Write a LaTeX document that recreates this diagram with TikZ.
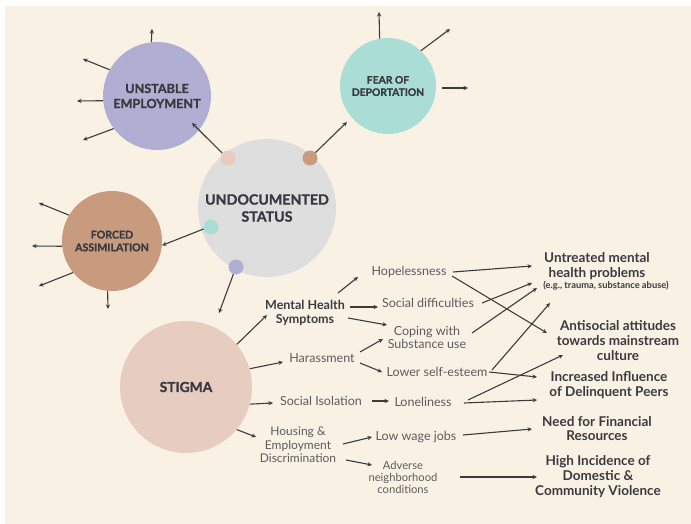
\documentclass[tikz,border=0pt]{standalone}
\usepackage{fontspec}
\setmainfont{Lato}
\usetikzlibrary{arrows.meta}
\definecolor{paper}{HTML}{F9F2E4}
\definecolor{lavender}{HTML}{B0AED3}
\definecolor{mint}{HTML}{A9DDD5}
\definecolor{fog}{HTML}{DEDEDF}
\definecolor{clay}{HTML}{C89A7E}
\definecolor{blush}{HTML}{E7CCC0}
\definecolor{ink}{HTML}{3A3A40}
\definecolor{softink}{HTML}{5C5C60}
\definecolor{wire}{HTML}{3C3C3C}
% heavy face for the circle captions
\newcommand{\heavy}[1]{\bfseries\addfontfeatures{FakeBold=1.3}\fontsize{#1}{1.2\dimexpr#1pt\relax}\selectfont}
\tikzset{
  hub/.style={circle, inner sep=0pt, text=ink, align=center},
  dot/.style={circle, inner sep=0pt, minimum size=15pt},
  cause/.style={align=center, text=softink, inner sep=1pt, font=\fontsize{12.5}{13}\selectfont},
  causebold/.style={align=center, text=ink, inner sep=1pt, font=\bfseries\fontsize{12.5}{14}\selectfont},
  outcome/.style={align=center, text=ink, inner sep=1pt, font=\bfseries\fontsize{13.5}{15}\selectfont},
  arr/.style={draw=wire, line width=1.1pt, -{Stealth[length=4.5pt,width=4.2pt]}}
}
\begin{document}
\begin{tikzpicture}[x=1pt,y=-1pt]
\useasboundingbox (0,0) rectangle (691,524);
\fill[white] (0,0) rectangle (691,524);
\fill[paper] (5,6) rectangle (691,524);

% main circles
\node[hub, fill=lavender, minimum size=108pt, font=\heavy{12.6}] (ue) at (157,96) {UNSTABLE\\EMPLOYMENT};
\node[hub, fill=mint, minimum size=96pt, font=\heavy{10.3}] (fd) at (388,86) {FEAR OF\\DEPORTATION};
\node[hub, fill=fog, minimum size=138pt, font=\heavy{14.2}] (us) at (267,208) {UNDOCUMENTED\\STATUS};
\node[hub, fill=clay, minimum size=100pt, font=\heavy{10.6}] (fa) at (112,241) {FORCED\\ASSIMILATION};
\node[hub, fill=blush, minimum size=132pt, font=\heavy{13.8}] (st) at (186,387) {STIGMA};

% coloured dots on the status circle
\node[dot, fill=blush] (d1) at (228,158) {};
\node[dot, fill=clay] (d2) at (310,158) {};
\node[dot, fill=mint] (d3) at (211,227) {};
\node[dot, fill=lavender] (d4) at (236,267) {};

% links out of the status circle
\draw[arr] (d1.140) -- ([shift={(35,27)}]ue.center);
\draw[arr] (d2.45) -- ([shift={(-41,36)}]fd.center);
\draw[arr] (d3.195) -- (fa.-5);
\draw[arr] (d4.250) -- ([shift={(33,-74)}]st.center);

% open-ended arrows
\draw[arr] (ue.96) -- ([shift={(-5,-67)}]ue.center);
\draw[arr] (ue.151) -- ([shift={(-74,-37)}]ue.center);
\draw[arr] (ue.185) -- ([shift={(-80,5)}]ue.center);
\draw[arr] (ue.217) -- ([shift={(-74,44)}]ue.center);

\draw[arr] (fd.100) -- ([shift={(-9,-74)}]fd.center);
\draw[arr] (fd.47) -- ([shift={(62,-57)}]fd.center);
\draw[arr] ([shift={(54,2)}]fd.center) -- ([shift={(80,2)}]fd.center);

\draw[arr] (fa.149) -- ([shift={(-73,-38)}]fa.center);
\draw[arr] (fa.186) -- ([shift={(-80,5)}]fa.center);
\draw[arr] (fa.219) -- ([shift={(-73,45)}]fa.center);
\draw[arr] (fa.265) -- ([shift={(-4,68)}]fa.center);

% consequences of stigma
\node[causebold] (mhs) at (305,313) {Mental Health\\Symptoms};
\node[cause] (hope) at (409,272) {Hopelessness};
\node[cause] (socd) at (428,303) {Social difficulties};
\node[cause] (cope) at (427,337) {Coping with\\Substance use};
\node[cause] (hara) at (322,358) {Harassment};
\node[cause] (lowse) at (437,372) {Lower self-esteem};
\node[cause] (sociso) at (321,401) {Social Isolation};
\node[cause] (lone) at (423,402) {Loneliness};
\node[cause, font=\fontsize{12}{13.5}\selectfont] (hous) at (298,445) {Housing \&\\Employment\\Discrimination};
\node[cause] (lowwage) at (416,437) {Low wage jobs};
\node[cause, font=\fontsize{11.2}{12}\selectfont] (adv) at (403,477) {Adverse\\neighborhood\\conditions};

\node[outcome] (untr) at (597,266) {Untreated mental\\health problems};
\node[text=ink, inner sep=0pt, font=\bfseries\fontsize{9.3}{10}\selectfont] (untrnote) at (606,286) {(e.g., trauma, substance abuse)};
\node[outcome] (anti) at (618,341) {Antisocial attitudes\\towards mainstream\\culture};
\node[outcome] (incr) at (609,385) {Increased Influence\\of Delinquent Peers};
\node[outcome, font=\bfseries\fontsize{13.5}{14}\selectfont] (need) at (597,429) {Need for Financial\\Resources};
\node[outcome] (high) at (598,477) {High Incidence of\\Domestic \&\\Community Violence};

% stigma to its symptoms
\draw[arr] (st.40) -- ([shift={(-38,2)}]mhs.center);
\draw[arr] (st.16) -- ([shift={(-39,4)}]hara.center);
\draw[arr] (st.-15) -- ([shift={(-48,2)}]sociso.center);
\draw[arr] (st.-40) -- ([shift={(-42,-8)}]hous.center);

% second tier
\draw[arr] ([shift={(33,-20)}]mhs.center) -- ([shift={(-51,5)}]hope.center);
\draw[arr] ([shift={(45,-6)}]mhs.center) -- ([shift={(-50,4)}]socd.center);
\draw[arr] ([shift={(43,5)}]mhs.center) -- ([shift={(-40,-12)}]cope.center);
\draw[arr] ([shift={(38,-6)}]hara.center) -- ([shift={(-44,2)}]cope.center);
\draw[arr] ([shift={(38,5)}]hara.center) -- ([shift={(-55,0)}]lowse.center);
\draw[arr] ([shift={(51,0)}]sociso.center) -- ([shift={(-34,-1)}]lone.center);
\draw[arr] ([shift={(45,-1)}]hous.center) -- ([shift={(-44,0)}]lowwage.center);
\draw[arr] ([shift={(48,15)}]hous.center) -- ([shift={(-31,-12)}]adv.center);

% outcomes
\draw[arr] ([shift={(44,0)}]hope.center) -- ([shift={(-65,0)}]untr.center);
\draw[arr] ([shift={(43,4)}]hope.center) -- ([shift={(-71,-8)}]anti.center);
\draw[arr] ([shift={(54,0)}]socd.center) -- ([shift={(-65,17)}]untr.center);
\draw[arr] ([shift={(45,-4)}]cope.center) -- ([shift={(-60,22)}]untr.center);
\draw[arr] ([shift={(55,-2)}]lowse.center) -- ([shift={(-47,37)}]untr.center);
\draw[arr] ([shift={(52,0)}]lowse.center) -- ([shift={(-72,-8)}]incr.center);
\draw[arr] ([shift={(45,-2)}]lone.center) -- ([shift={(-55,14)}]anti.center);
\draw[arr] ([shift={(41,1)}]lone.center) -- ([shift={(-72,15)}]incr.center);
\draw[arr] ([shift={(47,-2)}]lowwage.center) -- ([shift={(-65,0)}]need.center);
\draw[arr] ([shift={(57,0)}]adv.center) -- ([shift={(-61,0)}]high.center);
\end{tikzpicture}
\end{document}
